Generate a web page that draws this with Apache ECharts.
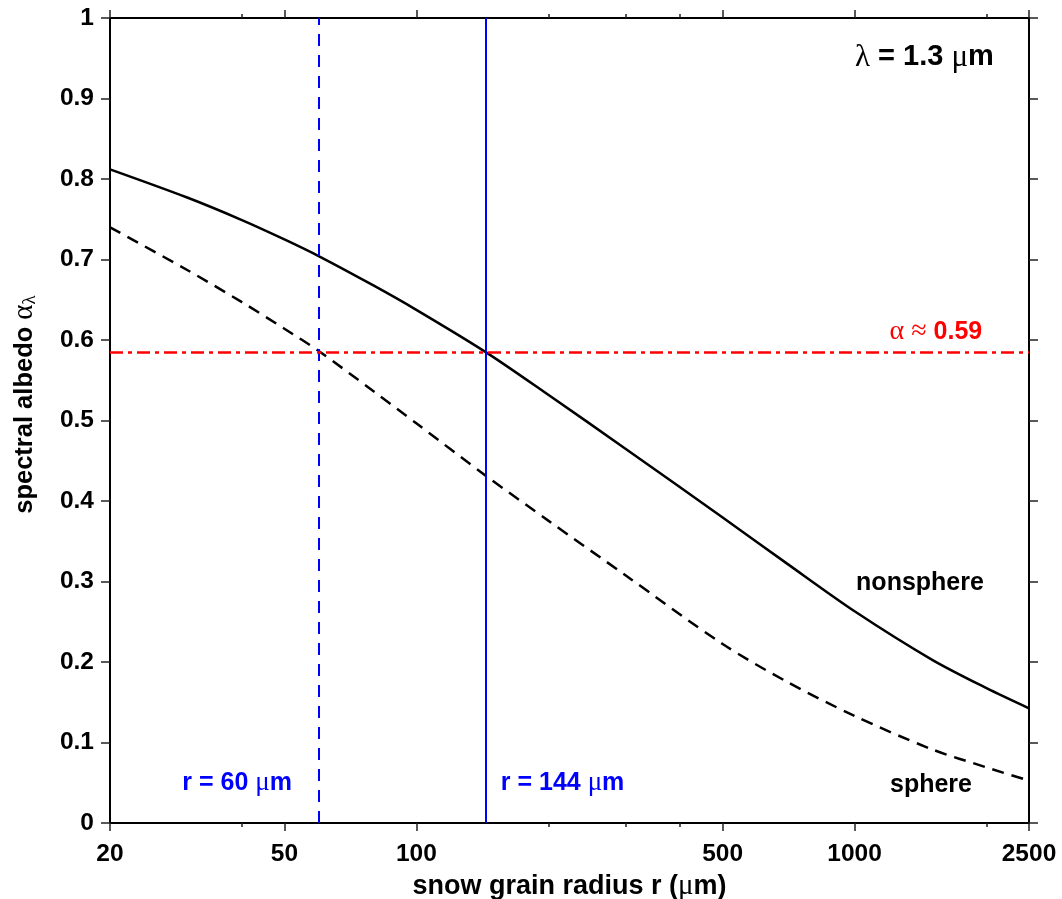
<!DOCTYPE html>
<html><head><meta charset="utf-8">
<script src="https://cdn.jsdelivr.net/npm/echarts@6/dist/echarts.min.js"></script>
<style>html,body{margin:0;padding:0;background:#fff}#c{width:1062px;height:899px}</style>
</head><body><div id="c"></div>
<script>
// ---- data ----
const radius = [20, 30, 40, 50, 60, 80, 100, 144, 200, 300, 500, 700, 1000, 1500, 2000, 2500];
const nonsphere = [0.812, 0.777, 0.749, 0.725, 0.704, 0.6675, 0.6375, 0.585, 0.532, 0.465, 0.3795, 0.3225, 0.263, 0.203, 0.1675, 0.1425];
const sphere = [0.740, 0.687, 0.647, 0.614, 0.586, 0.536, 0.4965, 0.4315, 0.3756, 0.3078, 0.2223, 0.1756, 0.133, 0.0916, 0.0691, 0.0526];
const xMajorTicks = [20, 50, 100, 500, 1000, 2500];
const xMinorTicks = [40, 200, 300, 400, 2000];
const radiusMarkers = [60, 144];
const albedoMarker = 0.585;

const FONT = "'Liberation Sans', Arial, Helvetica, sans-serif";
const SERIF = "'Liberation Serif', 'DejaVu Serif', serif";

const chart = echarts.init(document.getElementById('c'), null, {renderer: 'canvas'});

function xAxisDef(pos, ticks, len, withLabels, showLine) {
  return {
    type: 'log', logBase: 10, min: 20, max: 2500, position: pos, gridIndex: 0,
    axisLine: {show: showLine, lineStyle: {color: '#000', width: 2}},
    axisTick: {show: true, inside: false, length: len, customValues: ticks, lineStyle: {color: '#222', width: 1.5}},
    axisLabel: withLabels ? {
      show: true, customValues: ticks, margin: 19,
      fontFamily: FONT, fontWeight: 'bold', fontSize: 24.5, color: '#000',
      formatter: v => String(Math.round(v))
    } : {show: false},
    splitLine: {show: false}, minorTick: {show: false}
  };
}

const xMain = xAxisDef('bottom', xMajorTicks, 8, true, true);
xMain.name = 'snow grain radius r ({g|μ}m)';
xMain.nameLocation = 'middle';
xMain.nameGap = 46;
xMain.nameTextStyle = {
  fontFamily: FONT, fontWeight: 'bold', fontSize: 27, color: '#000',
  rich: {g: {fontFamily: SERIF, fontWeight: 'normal', fontSize: 29, color: '#000'}}
};

function yAxisDef(pos, withLabels) {
  return {
    type: 'value', min: 0, max: 1, interval: 0.1, position: pos,
    axisLine: {show: true, lineStyle: {color: '#000', width: 2}},
    axisTick: {show: true, inside: false, length: 9, lineStyle: {color: '#222', width: 1.5}},
    axisLabel: withLabels ? {
      show: true, margin: 16, fontFamily: FONT, fontWeight: 'bold', fontSize: 24.5, color: '#000',
      formatter: v => (v === 0 ? '0' : v === 1 ? '1' : v.toFixed(1))
    } : {show: false},
    splitLine: {show: false}
  };
}
const yMain = yAxisDef('left', true);
yMain.name = 'spectral albedo {a|α}{s|λ}';
yMain.nameLocation = 'middle';
yMain.nameGap = 70;
yMain.nameTextStyle = {
  fontFamily: FONT, fontWeight: 'bold', fontSize: 25.5, color: '#000', padding: [0, 0, 0, 32],
  rich: {
    a: {fontFamily: SERIF, fontWeight: 'normal', fontSize: 29, color: '#000'},
    s: {fontFamily: SERIF, fontWeight: 'normal', fontSize: 19, color: '#000', padding: [12, 0, 0, 0]}
  }
};

function annot(pos, text, color, rich) {
  return {
    value: pos,
    label: {show: true, position: 'inside', formatter: text, color: color, opacity: 1,
      fontFamily: FONT, fontWeight: 'bold', fontSize: 25, rich: rich}
  };
}
const richBlue = {g: {fontFamily: SERIF, fontWeight: 'normal', fontSize: 27, color: '#0000ff'}, b: {fontFamily: FONT, fontWeight: 'bold', fontSize: 25, color: '#0000ff'}};
const richBlack = {g: {fontFamily: SERIF, fontWeight: 'normal', fontSize: 31, color: '#000'}, b: {fontFamily: FONT, fontWeight: 'bold', fontSize: 29, color: '#000'}};
const richRed = {g: {fontFamily: SERIF, fontWeight: 'normal', fontSize: 28, color: '#ff0000'}, b: {fontFamily: FONT, fontWeight: 'bold', fontSize: 25, color: '#ff0000'}};

const option = {
  backgroundColor: '#fff',
  animation: false,
  grid: {left: 110, right: 33, top: 18, bottom: 76, containLabel: false, outerBoundsMode: 'none'},
  xAxis: [
    xMain,
    xAxisDef('bottom', xMinorTicks, 4, false, false),
    xAxisDef('top', xMajorTicks, 8, false, true),
    xAxisDef('top', xMinorTicks, 4, false, false)
  ],
  yAxis: [yMain, yAxisDef('right', false)],
  series: [
    {
      name: 'nonsphere', type: 'line', xAxisIndex: 0, yAxisIndex: 0,
      data: radius.map((r, i) => [r, nonsphere[i]]),
      smooth: 0.3, symbol: 'none', lineStyle: {color: '#000', width: 2.5, type: 'solid'}, z: 3,
      markLine: {
        silent: true, symbol: 'none', label: {show: false}, animation: false, precision: 4,
        data: [
          {xAxis: radiusMarkers[0], lineStyle: {color: '#0000ff', width: 2, type: [12, 9]}},
          {xAxis: radiusMarkers[1], lineStyle: {color: '#0000ff', width: 2, type: 'solid'}},
          {yAxis: albedoMarker, lineStyle: {color: '#ff0000', width: 2.5, type: [13, 5, 4, 5]}}
        ]
      }
    },
    {
      name: 'sphere', type: 'line', xAxisIndex: 0, yAxisIndex: 0,
      data: radius.map((r, i) => [r, sphere[i]]),
      smooth: 0.3, symbol: 'none', lineStyle: {color: '#000', width: 2.5, type: [12, 8]}, z: 3
    },
    {
      name: 'labels', type: 'scatter', xAxisIndex: 0, yAxisIndex: 0, symbolSize: 0, silent: true, z: 5,
      itemStyle: {opacity: 1},
      data: [
        annot([1443, 0.951], '{g|λ}{b| = 1.3 }{g|μ}{b|m}', '#000', richBlack),
        annot([1533, 0.610], '{g|α ≈ }{b|0.59}', '#ff0000', richRed),
        annot([39, 0.0497], '{b|r = 60 }{g|μ}{b|m}', '#0000ff', richBlue),
        annot([215.6, 0.0497], '{b|r = 144 }{g|μ}{b|m}', '#0000ff', richBlue),
        annot([1410, 0.298], 'nonsphere', '#000', null),
        annot([1494, 0.0472], 'sphere', '#000', null)
      ]
    }
  ]
};
chart.setOption(option);
</script>
</body></html>
